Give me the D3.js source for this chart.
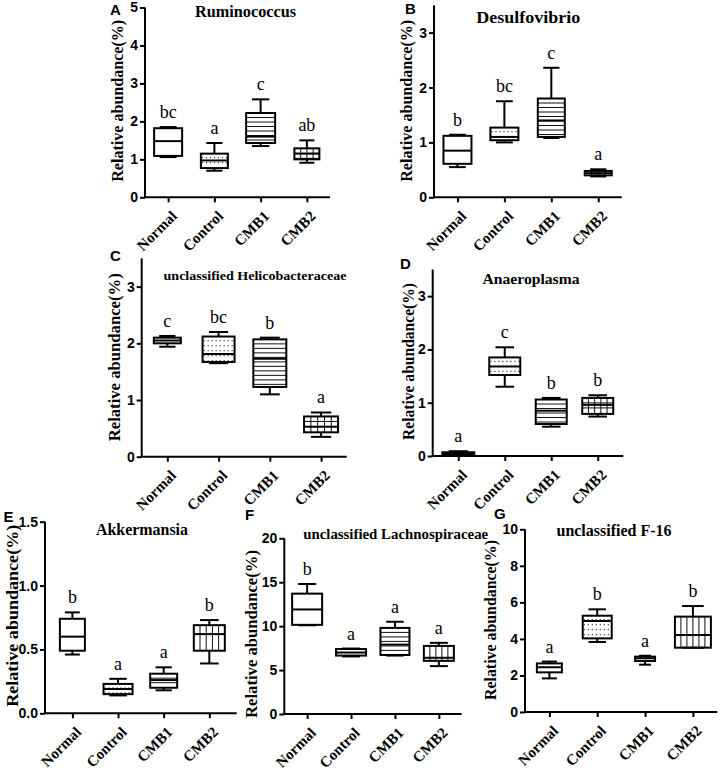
<!DOCTYPE html>
<html><head><meta charset="utf-8">
<script src="https://cdn.jsdelivr.net/npm/d3@7"></script>
<style>body{margin:0;background:#fff}svg{display:block}</style>
</head><body>
<svg id="chart" width="723" height="772"></svg>
<script>
// ---------------- DATA ----------------
const categories = ["Normal", "Control", "CMB1", "CMB2"];
// five-number summaries per group: [min, q1, median, q3, max] (relative abundance, %)
const ruminococcus   = [[1.06,1.09,1.48,1.82,1.85],[0.70,0.77,0.97,1.15,1.43],[1.35,1.43,1.60,2.22,2.58],[0.91,1.00,1.15,1.29,1.50]];
const desulfovibrio  = [[0.55,0.61,0.85,1.12,1.14],[1.00,1.04,1.10,1.27,1.75],[1.08,1.10,1.40,1.80,2.36],[0.38,0.40,0.44,0.48,0.51]];
const helicobacter   = [[1.94,2.00,2.05,2.10,2.13],[1.65,1.67,1.81,2.12,2.20],[1.10,1.23,1.73,2.07,2.10],[0.35,0.43,0.53,0.71,0.78]];
const anaeroplasma   = [[0.02,0.03,0.05,0.07,0.09],[1.30,1.52,1.68,1.85,2.04],[0.55,0.60,0.85,1.06,1.09],[0.74,0.79,0.96,1.09,1.14]];
const akkermansia    = [[0.46,0.49,0.60,0.74,0.79],[0.14,0.15,0.19,0.23,0.27],[0.18,0.20,0.26,0.31,0.36],[0.39,0.49,0.62,0.69,0.73]];
const lachnospiraceae= [[10.1,10.15,11.9,13.7,14.8],[6.55,6.65,7.0,7.4,7.45],[6.65,6.72,7.9,9.8,10.5],[5.45,6.05,6.4,7.75,8.1]];
const f16            = [[1.84,2.17,2.45,2.66,2.76],[3.83,4.03,4.98,5.27,5.62],[2.59,2.79,2.94,3.03,3.08],[3.52,3.52,4.22,5.22,5.80]];

const lettersA = ["bc","a","c","ab"];
const lettersB = ["b","bc","c","a"];
const lettersC = ["c","bc","b","a"];
const lettersD = ["a","c","b","b"];
const lettersE = ["b","a","a","b"];
const lettersF = ["b","a","a","a"];
const lettersG = ["a","b","a","b"];

const ticksA = [0,1,2,3,4,5];
const ticksB = [0,1,2,3];
const ticksC = [0,1,2,3];
const ticksD = [0,1,2,3];
const ticksE = [0,0.5,1.0,1.5];
const ticksF = [0,5,10,15,20];
const ticksG = [0,2,4,6,8,10];

const titles = ["Ruminococcus","Desulfovibrio","unclassified Helicobacteraceae","Anaeroplasma","Akkermansia","unclassified Lachnospiraceae","unclassified F-16"];
const panelLetters = ["A","B","C","D","E","F","G"];
const yLabel = "Relative abundance(%)";

// ---------------- LAYOUT ----------------
const panels = [
  {data:ruminococcus, letters:lettersA, ticks:ticksA, max:5, fmt:"d",
   left:145, right:330, bottom:197.3, top:7.5, pad:0.5, bw:[28,27,29,25],
   fills:["none","dots","hlines","grid"],
   tag:[110,15], title:[245.5,16.5,16,101], ylab:[117.5,100.8,162]},
  {data:desulfovibrio, letters:lettersB, ticks:ticksB, max:3.5, fmt:"d",
   left:434, right:621.7, bottom:197.3, top:5.2, pad:0.5, bw:[28,28,27,27],
   fills:["none","dots","hlines","grid"],
   tag:[405,13.5], title:[528.3,23,17,104], ylab:[406.7,100.8,162]},
  {data:helicobacter, letters:lettersC, ticks:ticksC, max:3.5, fmt:"d",
   left:141.7, right:346.7, bottom:456.7, top:258.3, pad:0.5, bw:[27,32,33,34],
   fills:["none","dots","hlines","grid"],
   tag:[110,261], title:[255,280,13.5,183], ylab:[114,357.3,168]},
  {data:anaeroplasma, letters:lettersD, ticks:ticksD, max:3.5, fmt:"d",
   left:432.7, right:623.3, bottom:456, top:269.5, pad:0.55, bw:[32,31,31,31],
   fills:["none","dots","hlines","grid"],
   tag:[400,268.5], title:[531,284,15.5,97], ylab:[408.3,361.5,157]},
  {data:akkermansia, letters:lettersE, ticks:ticksE, max:1.5, fmt:".1f",
   left:45, right:236.7, bottom:713.3, top:521.7, pad:0.6, bw:[25,29,27,31],
   fills:["none","dots","hlines","vlines"],
   tag:[3.5,522], title:[142,535,16,92], ylab:[12.5,615.8,182]},
  {data:lachnospiraceae, letters:lettersF, ticks:ticksF, max:20, fmt:"d",
   left:284.3, right:461.7, bottom:714, top:538.3, pad:0.52, bw:[30,30,29,30],
   fills:["none","dots","hlines","vlines"],
   tag:[245,520], title:[395.7,539,14.8,185], ylab:[251,634,168]},
  {data:f16, letters:lettersG, ticks:ticksG, max:10, fmt:"d",
   left:525, right:717.3, bottom:712, top:529.3, pad:0.51, bw:[25,29,20,36],
   fills:["none","dots","hlines","vlines"],
   tag:[494,518.5], title:[614,536,16,115], ylab:[490,620,160]}
];

const SERIF = "'Liberation Serif','Times New Roman',serif";
const SANS = "'Liberation Sans',Arial,sans-serif";
const svg = d3.select("#chart");

function fillBox(g, x, w, y1, y2, type) {
  const lines = g.append("g").attr("stroke", "#111");
  if (type === "hlines" || type === "grid") {
    const s = type === "grid" ? 5 : 4.5;
    for (let y = y1 + s; y < y2 - 1; y += s)
      lines.append("line").attr("x1", x).attr("x2", x + w).attr("y1", y).attr("y2", y).attr("stroke-width", 1);
  }
  if (type === "vlines" || type === "grid") {
    const n = Math.max(2, Math.round(w / 6.3));
    for (let i = 1; i < n; i++) {
      const xx = x + w * i / n;
      lines.append("line").attr("x1", xx).attr("x2", xx).attr("y1", y1).attr("y2", y2).attr("stroke-width", 1);
    }
  }
  if (type === "dots") {
    for (let y = y1 + 4; y < y2 - 1; y += 5)
      lines.append("line").attr("x1", x + 1).attr("x2", x + w).attr("y1", y).attr("y2", y)
        .attr("stroke-width", 1.2).attr("stroke", "#444").attr("stroke-dasharray", "1.2,2.8");
  }
}

panels.forEach((p, pi) => {
  const g = svg.append("g");
  const x = d3.scalePoint().domain(categories).range([p.left, p.right]).padding(p.pad);
  const y = d3.scaleLinear().domain([0, p.max]).range([p.bottom, p.top]);

  // y axis
  const yAxis = d3.axisLeft(y).tickValues(p.ticks).tickFormat(d3.format(p.fmt)).tickSize(5).tickPadding(2);
  const ya = g.append("g").attr("transform", `translate(${p.left},0)`).call(yAxis);
  // x axis
  const xAxis = d3.axisBottom(x).tickSize(5).tickFormat("");
  const xa = g.append("g").attr("transform", `translate(0,${p.bottom})`).call(xAxis);
  [ya, xa].forEach(a => {
    a.select(".domain").attr("stroke", "#000").attr("stroke-width", 2);
    a.selectAll(".tick line").attr("stroke", "#000").attr("stroke-width", 2);
  });
  xa.select(".domain").attr("d", `M${p.left},0H${p.right}`);
  ya.select(".domain").attr("d", `M0,${p.top}V${p.bottom}`);
  ya.selectAll(".tick text").attr("font-family", SANS).attr("font-weight", "bold").attr("font-size", 14).attr("fill", "#000");

  // x category labels rotated
  g.selectAll(".xl").data(categories).enter().append("text")
    .attr("transform", d => `translate(${x(d) + 6},${p.bottom + 16}) rotate(-45)`)
    .attr("text-anchor", "end").attr("dy", "0.35em")
    .attr("font-family", SERIF).attr("font-weight", "bold").attr("font-size", 15)
    .text(d => d);

  // boxes
  p.data.forEach((v, i) => {
    const cx = x(categories[i]);
    const w = p.bw[i];
    const bx = cx - w / 2;
    const [mn, q1, md, q3, mx] = v;
    const bg = g.append("g");
    fillBox(bg, bx, w, y(q3), y(q1), p.fills[i]);
    const cap = w * 0.6;
    const ln = (x1, y1, x2, y2) => bg.append("line").attr("x1", x1).attr("y1", y1).attr("x2", x2).attr("y2", y2)
      .attr("stroke", "#000").attr("stroke-width", 2);
    ln(cx, y(mx), cx, y(q3));
    ln(cx, y(q1), cx, y(mn));
    ln(cx - cap / 2, y(mx), cx + cap / 2, y(mx));
    ln(cx - cap / 2, y(mn), cx + cap / 2, y(mn));
    bg.append("rect").attr("x", bx).attr("y", y(q3)).attr("width", w).attr("height", Math.max(0.5, y(q1) - y(q3)))
      .attr("fill", "none").attr("stroke", "#000").attr("stroke-width", 2);
    ln(bx, y(md), bx + w, y(md));
    // significance letter
    g.append("text").attr("x", cx).attr("y", y(mx) - 9).attr("text-anchor", "middle")
      .attr("font-family", SERIF).attr("font-size", 18).attr("fill", "#000").text(p.letters[i]);
  });

  // title
  g.append("text").attr("x", p.title[0]).attr("y", p.title[1]).attr("text-anchor", "middle")
    .attr("font-family", SERIF).attr("font-weight", "bold").attr("font-size", p.title[2])
    .attr("textLength", p.title[3]).attr("lengthAdjust", "spacingAndGlyphs").text(titles[pi]);
  // panel tag
  g.append("text").attr("x", p.tag[0]).attr("y", p.tag[1])
    .attr("font-family", SANS).attr("font-weight", "bold").attr("font-size", 15).text(panelLetters[pi]);
  // y label
  g.append("text").attr("transform", `translate(${p.ylab[0]},${p.ylab[1]}) rotate(-90)`)
    .attr("text-anchor", "middle").attr("dominant-baseline", "central")
    .attr("font-family", SERIF).attr("font-weight", "bold").attr("font-size", 16)
    .attr("textLength", p.ylab[2]).attr("lengthAdjust", "spacingAndGlyphs").text(yLabel);
});
</script>
</body></html>
